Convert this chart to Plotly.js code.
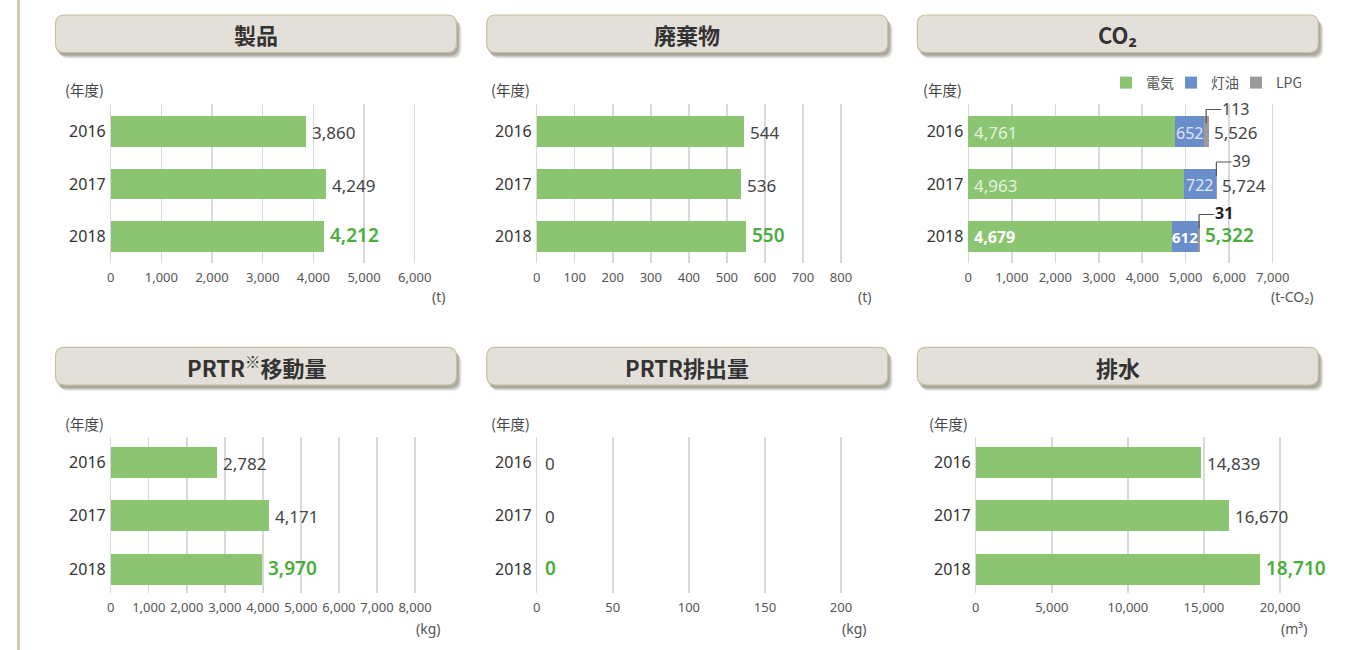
<!DOCTYPE html>
<html><head><meta charset="utf-8">
<script src="https://cdn.plot.ly/plotly-3.0.1.min.js"></script>
<style>html,body{margin:0;padding:0;background:#fff;}#chart{width:1348px;height:650px;}</style>
</head><body><div id="chart"></div>
<script>
// ---------- data ----------
const years = ['2016', '2017', '2018'];
const productValues = [3860, 4249, 4212];
const wasteValues = [544, 536, 550];
const co2Electricity = [4761, 4963, 4679];
const co2Kerosene = [652, 722, 612];
const co2Lpg = [113, 39, 31];
const co2Total = [5526, 5724, 5322];
const prtrTransferValues = [2782, 4171, 3970];
const prtrEmissionValues = [0, 0, 0];
const wastewaterValues = [14839, 16670, 18710];
const panelTitles = ['製品', '廃棄物', 'CO₂', 'PRTR<sup>※</sup>移動量', 'PRTR排出量', '排水'];
const unitLabels = ['(t)', '(t)', '(t-CO₂)', '(kg)', '(kg)', '(m³)'];
const co2SeriesNames = ['電気', '灯油', 'LPG'];
const yearAxisLabel = '(年度)';

// ---------- styling ----------
const W = 1348, H = 650;
const GREEN = '#8cc572', BLUE = '#6a8ecb', GRAY = '#9b9b9b';
const GREEN_TEXT = '#4aad3b';
const GRID = '#d9d9d9';
const FONT = 'Noto Sans, Noto Sans CJK JP, sans-serif';
const JP = 'Noto Sans CJK JP, Noto Sans, sans-serif';
const fx = p => p / W;
const fy = p => 1 - p / H;
const fmt = v => v.toLocaleString('en-US');

function xAxis(px0, pxTick, tickVal, dtick, anchor) {
  const s = (pxTick - px0) / tickVal;
  const left = px0 - 1, right = pxTick + 4;
  return {
    domain: [fx(left), fx(right)], range: [(left - px0) / s, (right - px0) / s],
    tick0: 0, dtick: dtick, tickformat: ',d', tickangle: 0, showgrid: true, gridcolor: GRID, gridwidth: 1.5,
    zeroline: true, zerolinecolor: GRID, zerolinewidth: 1.5, showline: false, ticks: '',
    ticklabelstandoff: 5,
    tickfont: {family: FONT, size: 13, color: '#555'}, anchor: anchor, fixedrange: true
  };
}
function yAxis(top, bottom, rng, anchor) {
  return {
    domain: [fy(bottom), fy(top)], range: rng, type: 'category', anchor: anchor,
    showgrid: false, zeroline: false, showline: false, ticks: '', ticklabelstandoff: 3,
    tickfont: {family: FONT, size: 16, color: '#333'}, fixedrange: true
  };
}
const TOP = [104, 263], BOT = [437, 593];
const topRange = [2.505, -0.524], botRange = [2.44, -0.47];

const layout = {
  width: W, height: H, margin: {l: 0, r: 0, t: 0, b: 0},
  paper_bgcolor: '#fff', plot_bgcolor: 'rgba(0,0,0,0)',
  font: {family: FONT, color: '#444'},
  barmode: 'stack', showlegend: true,
  legend: {orientation: 'h', x: fx(1106), xanchor: 'left', y: fy(83), yanchor: 'middle',
    entrywidth: 20, entrywidthmode: 'pixels',
    font: {family: JP, size: 14, color: '#555'}, bgcolor: 'rgba(0,0,0,0)', traceorder: 'normal'},
  xaxis: xAxis(110.7, 414.7, 6000, 1000, 'y'),
  xaxis2: xAxis(536.7, 841, 800, 100, 'y2'),
  xaxis3: xAxis(968.3, 1272.7, 7000, 1000, 'y3'),
  xaxis4: xAxis(110.7, 415, 8000, 1000, 'y4'),
  xaxis5: xAxis(536.7, 841, 200, 50, 'y5'),
  xaxis6: xAxis(975.7, 1280, 20000, 5000, 'y6'),
  yaxis: yAxis(TOP[0], TOP[1], topRange, 'x'),
  yaxis2: yAxis(TOP[0], TOP[1], topRange, 'x2'),
  yaxis3: yAxis(TOP[0], TOP[1], topRange, 'x3'),
  yaxis4: yAxis(BOT[0], BOT[1], botRange, 'x4'),
  yaxis5: yAxis(BOT[0], BOT[1], botRange, 'x5'),
  yaxis6: yAxis(BOT[0], BOT[1], botRange, 'x6'),
  shapes: [], annotations: []
};

// left border line
layout.shapes.push({type: 'line', xref: 'paper', yref: 'paper', x0: fx(18.5), x1: fx(18.5), y0: 0, y1: 1,
  line: {color: '#c9c3a3', width: 2.5}, layer: 'below'});

// title boxes
function roundRectPath(x0, y0, x1, y1, r) {
  const P = (x, y) => fx(x) + ',' + fy(y);
  return 'M' + P(x0 + r, y0) + ' L' + P(x1 - r, y0) + ' Q' + P(x1, y0) + ' ' + P(x1, y0 + r) +
    ' L' + P(x1, y1 - r) + ' Q' + P(x1, y1) + ' ' + P(x1 - r, y1) +
    ' L' + P(x0 + r, y1) + ' Q' + P(x0, y1) + ' ' + P(x0, y1 - r) +
    ' L' + P(x0, y0 + r) + ' Q' + P(x0, y0) + ' ' + P(x0 + r, y0) + ' Z';
}
const boxes = [[55.5, 15, 456.5, 52.5], [486.7, 15, 887.7, 52.5], [917.3, 15, 1318.3, 52.5],
               [55.5, 347.3, 456.5, 385], [486.7, 347.3, 887.7, 385], [917.3, 347.3, 1318.3, 385]];
boxes.forEach((b, i) => {
  [[5, 6, 0.10], [4, 5, 0.12], [3, 4, 0.15], [2, 3, 0.15]].forEach(([dx, dy, a]) => {
    layout.shapes.push({type: 'path', xref: 'paper', yref: 'paper', layer: 'below',
      path: roundRectPath(b[0] + dx - 1, b[1] + dy, b[2] + dx, b[3] + dy, 9),
      fillcolor: 'rgba(60,55,40,' + a + ')', line: {width: 0}});
  });
  layout.shapes.push({type: 'path', xref: 'paper', yref: 'paper', layer: 'below',
    path: roundRectPath(b[0], b[1], b[2], b[3], 9), fillcolor: '#e3e0d9', line: {color: '#c8bf9f', width: 1.2}});
  layout.annotations.push({xref: 'paper', yref: 'paper', x: fx((b[0] + b[2]) / 2), y: fy((b[1] + b[3]) / 2 + 0.5),
    xanchor: 'center', yanchor: 'middle', showarrow: false, text: '<b>' + panelTitles[i] + '</b>',
    font: {family: JP, size: 22, color: '#333'}});
});

// (年度) labels and units
[[63, 90], [489, 90], [920.5, 90], [63, 423], [489, 423], [927, 423]].forEach(p => {
  layout.annotations.push({xref: 'paper', yref: 'paper', x: fx(p[0]), y: fy(p[1]), xanchor: 'left', yanchor: 'middle',
    showarrow: false, text: yearAxisLabel, font: {family: JP, size: 14.5, color: '#444'}});
});
[[447, 296], [873, 296], [1315, 296], [443, 628], [869, 628], [1309, 628]].forEach((p, i) => {
  layout.annotations.push({xref: 'paper', yref: 'paper', x: fx(p[0]), y: fy(p[1]), xanchor: 'right', yanchor: 'middle',
    showarrow: false, text: unitLabels[i], font: {family: FONT, size: 14, color: '#555'}});
});

// ---------- traces ----------
const traces = [];
function singleBar(values, xa, ya, width) {
  traces.push({type: 'bar', orientation: 'h', x: values, y: years, xaxis: xa, yaxis: ya, width: width,
    marker: {color: GREEN, line: {width: 0}}, showlegend: false, hoverinfo: 'skip'});
  values.forEach((v, i) => {
    const last = i === values.length - 1;
    layout.annotations.push({xref: xa, yref: ya, x: v, y: i, xanchor: 'left', yanchor: 'middle',
      xshift: v === 0 ? 6 : 4, yshift: last ? 1 : -1, showarrow: false, text: fmt(v),
      font: last ? {family: FONT, size: 19, color: GREEN_TEXT, weight: 600} : {family: FONT, size: 17, color: '#444'}});
  });
}
singleBar(productValues, 'x', 'y', 0.59);
singleBar(wasteValues, 'x2', 'y2', 0.59);
singleBar(prtrTransferValues, 'x4', 'y4', 0.58);
singleBar(prtrEmissionValues, 'x5', 'y5', 0.58);
singleBar(wastewaterValues, 'x6', 'y6', 0.58);

// CO2 stacked
[[co2Electricity, GREEN], [co2Kerosene, BLUE], [co2Lpg, GRAY]].forEach(([vals, col], k) => {
  traces.push({type: 'bar', orientation: 'h', x: vals, y: years, xaxis: 'x3', yaxis: 'y3', width: 0.59,
    name: co2SeriesNames[k], marker: {color: col, line: {width: 0}}, showlegend: true, hoverinfo: 'skip'});
});
const pxPerX3 = (1272.7 - 968.3) / 7000;
const pxPerY3 = (TOP[1] - TOP[0]) / (topRange[0] - topRange[1]);
years.forEach((yr, i) => {
  const last = i === years.length - 1;
  const lpgMid = co2Electricity[i] + co2Kerosene[i] + co2Lpg[i] / 2;
  layout.annotations.push({xref: 'x3', yref: 'y3', x: 0, y: i, xanchor: 'left', yanchor: 'middle', xshift: 4, yshift: -1,
    showarrow: false, text: fmt(co2Electricity[i]),
    font: last ? {family: FONT, size: 16, color: '#ffffff', weight: 700} : {family: FONT, size: 17, color: 'rgba(255,255,255,0.78)'}});
  layout.annotations.push({xref: 'x3', yref: 'y3', x: co2Electricity[i] + co2Kerosene[i] / 2, y: i, xanchor: 'center',
    yanchor: 'middle', yshift: -1, showarrow: false, text: fmt(co2Kerosene[i]),
    font: last ? {family: FONT, size: 15, color: '#ffffff', weight: 700} : {family: FONT, size: 16, color: 'rgba(255,255,255,0.8)'}});
  layout.annotations.push({xref: 'x3', yref: 'y3', x: co2Total[i], y: i, xanchor: 'left', yanchor: 'middle',
    xshift: 3, yshift: last ? 1 : -1, showarrow: false, text: fmt(co2Total[i]),
    font: last ? {family: FONT, size: 19, color: GREEN_TEXT, weight: 600} : {family: FONT, size: 17, color: '#444'}});
  layout.annotations.push({xref: 'x3', yref: 'y3', x: lpgMid, y: i, xanchor: 'left', yanchor: 'middle',
    xshift: 14, yshift: 23, showarrow: false, text: fmt(co2Lpg[i]),
    font: last ? {family: FONT, size: 16, color: '#222', weight: 700} : {family: FONT, size: 16, color: '#444'}});
  // leader line (elbow): vertical from inside the bar up, then right
  const yLow = i - 8 / pxPerY3, yHigh = i - 22 / pxPerY3, xEnd = lpgMid + 15 / pxPerX3;
  layout.shapes.push({type: 'line', xref: 'x3', yref: 'y3', x0: lpgMid, x1: lpgMid, y0: yLow, y1: yHigh,
    line: {color: '#555', width: 1.2}});
  layout.shapes.push({type: 'line', xref: 'x3', yref: 'y3', x0: lpgMid, x1: xEnd, y0: yHigh, y1: yHigh,
    line: {color: '#555', width: 1.2}});
});

Plotly.newPlot('chart', traces, layout, {staticPlot: true, displayModeBar: false});
</script></body></html>
